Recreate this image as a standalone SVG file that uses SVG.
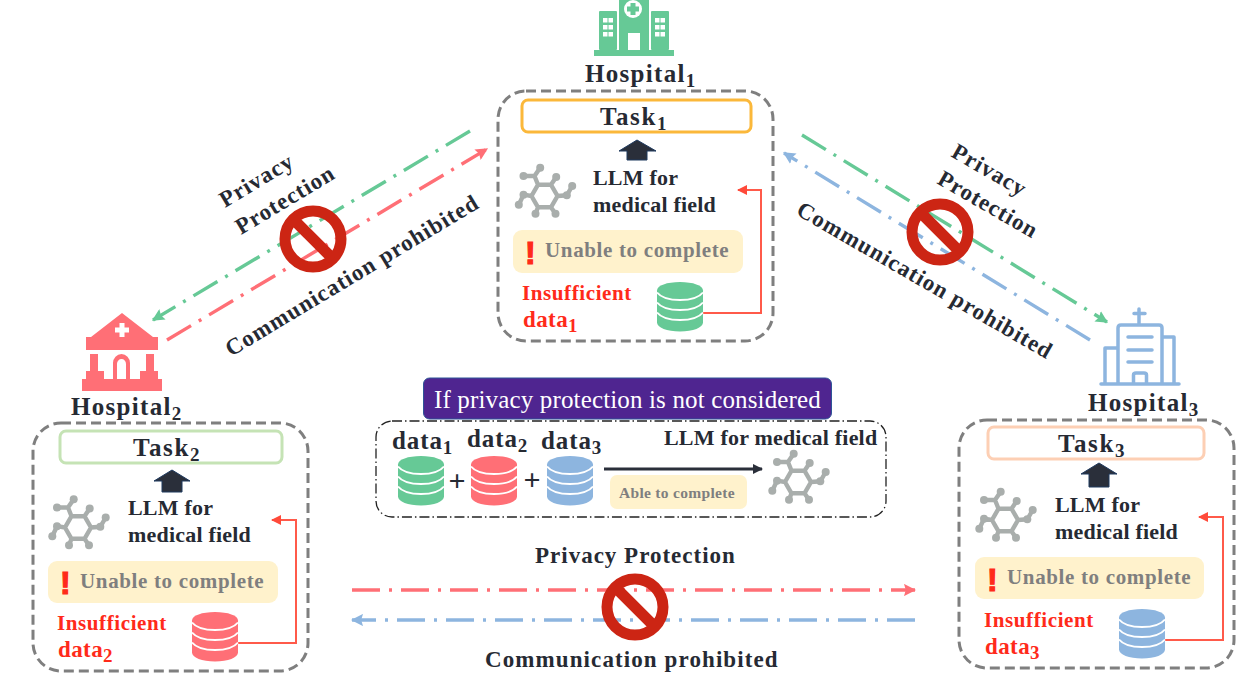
<svg xmlns="http://www.w3.org/2000/svg" width="1249" height="689" viewBox="0 0 1249 689">
<style>
text{font-family:"Liberation Serif","Times New Roman",serif;font-weight:700;fill:#262a33}
.hosp{font-size:25px;letter-spacing:1.3px}
.task{font-size:25px;letter-spacing:1.6px}
.llm{font-size:22px;letter-spacing:.2px}
.un{font-size:21px;letter-spacing:.65px;fill:#7f7f7f}
.ex{font-family:"Liberation Sans",Arial,sans-serif;font-size:32px;fill:#ff2a1a;stroke:#ff2a1a;stroke-width:1.2px}
.ins{font-size:21px;letter-spacing:.6px;fill:#ff2a1a}
.insd{font-size:23px;letter-spacing:.4px;fill:#ff2a1a}
.dat{font-size:25px;letter-spacing:.9px}
.lab{font-size:23px;letter-spacing:1px}
.sub{font-size:19px;letter-spacing:0}
.box{fill:none;stroke:#7f7f7f;stroke-width:3;stroke-dasharray:10 5}
.yel{fill:#fff2cc}
.up{fill:#2a2f3a;stroke:#1f3a5f;stroke-width:1}
.fb{fill:none;stroke:#ff5a4a;stroke-width:2}
.dd{fill:none;stroke-width:3.400;stroke-dasharray:28 9 3 9}
</style>
<defs>
<marker id="mg" viewBox="0 0 10 10" refX="9" refY="5" markerWidth="3.600" markerHeight="3.600" orient="auto"><path d="M0 0L10 5L0 10L1.500 5Z" fill="#66c996"/></marker>
<marker id="mr" viewBox="0 0 10 10" refX="9" refY="5" markerWidth="3.600" markerHeight="3.600" orient="auto"><path d="M0 0L10 5L0 10L1.500 5Z" fill="#ff6f76"/></marker>
<marker id="mb" viewBox="0 0 10 10" refX="9" refY="5" markerWidth="3.600" markerHeight="3.600" orient="auto"><path d="M0 0L10 5L0 10L1.500 5Z" fill="#8db5df"/></marker>
<marker id="mf" viewBox="0 0 10 10" refX="9" refY="5" markerWidth="6" markerHeight="5" orient="auto"><path d="M0 0L10 5L0 10Z" fill="#ff4a3a"/></marker>
<marker id="mk" viewBox="0 0 10 10" refX="9" refY="5" markerWidth="3.400" markerHeight="3.400" orient="auto"><path d="M0 0L10 5L0 10Z" fill="#2a2f3a"/></marker>
<g id="mol">
<path d="M-6.500-11.300H6.500L13 0L6.500 11.300H-6.500L-13 0ZM-6.500-11.300L-10-20H-21M-10-20L-4.300-28.300M6.500-11.300L11.700-19M13 0L22.300-.7L27.700-10M-13 0L-21-1.300L-25.700 8.700M-6.500 11.300L-9 17.700M6.500 11.300L11 17.700" fill="none" stroke="#a9aeac" stroke-width="4.400"/>
<g fill="#a9aeac"><circle cx="-4.300" cy="-28.300" r="4"/><circle cx="-21" cy="-20" r="4"/><circle cx="11.700" cy="-19" r="4"/><circle cx="27.700" cy="-10" r="4"/><circle cx="22.300" cy="-.7" r="4"/><circle cx="-21" cy="-1.300" r="4"/><circle cx="-25.700" cy="8.700" r="4"/><circle cx="-9" cy="17.700" r="4"/><circle cx="11" cy="17.700" r="4"/></g>
</g>
<g id="db">
<path d="M0 8.500C0 3.500 10 0 23 0S46 3.500 46 8.500V40.500C46 45.500 36 49.500 23 49.500S0 45.500 0 40.500Z"/>
<path d="M0 10.500C4 15.500 13 18 23 18S42 15.500 46 10.500M0 20.500C4 25.500 13 28 23 28S42 25.500 46 20.500M0 30.500C4 35.500 13 38 23 38S42 35.500 46 30.500" fill="none" stroke="#fff" stroke-width="2"/>
</g>
<g id="no">
<circle r="28" fill="none" stroke="#cc2514" stroke-width="11"/>
<path d="M-20-20L20 20" stroke="#cc2514" stroke-width="11"/>
</g>
</defs>

<g id="connectors">
<path class="dd" stroke="#66c996" marker-end="url(#mg)" d="M470 131L153 320"/>
<path class="dd" stroke="#ff6f76" marker-end="url(#mr)" d="M167 340L487 149"/>
<path class="dd" stroke="#66c996" marker-end="url(#mg)" d="M802 135L1107 322"/>
<path class="dd" stroke="#8db5df" marker-end="url(#mb)" d="M1090 340L784 153"/>
<path class="dd" stroke="#ff6f76" marker-end="url(#mr)" d="M352 590H915"/>
<path class="dd" stroke="#8db5df" marker-end="url(#mb)" d="M915 620H352"/>
<path class="fb" marker-end="url(#mf)" d="M703 313H761V190H738"/>
<path class="fb" marker-end="url(#mf)" d="M238 643H296V520H272"/>
<path class="fb" marker-end="url(#mf)" d="M1165 640H1223V517H1199"/>
</g>

<g id="label-left">
<text class="lab" transform="translate(225 208) rotate(-31)">Privacy</text>
<text class="lab" transform="translate(241 235) rotate(-31)">Protection</text>
<text class="lab" transform="translate(231 357) rotate(-31)">Communication prohibited</text>
<use href="#no" x="313" y="239"/>
</g>
<g id="label-right">
<text class="lab" transform="translate(950 156) rotate(30)">Privacy</text>
<text class="lab" transform="translate(936 183) rotate(30)">Protection</text>
<text class="lab" transform="translate(795 214) rotate(30)">Communication prohibited</text>
<use href="#no" x="940" y="232"/>
</g>
<g id="label-bottom">
<text class="lab" x="535" y="563">Privacy Protection</text>
<text class="lab" x="485" y="667" style="letter-spacing:1.1px">Communication prohibited</text>
<use href="#no" x="635" y="607"/>
</g>

<g id="hospital1">
<g fill="#66c996">
<rect x="594" y="50" width="80" height="6"/>
<rect x="599" y="11" width="18" height="39" rx="1"/>
<rect x="651" y="11" width="18" height="39" rx="1"/>
<rect x="619" y="0" width="30" height="50"/>
</g>
<circle cx="633" cy="9" r="9" fill="#fff"/>
<path d="M630.500 3H635.500V6.500H639V11.500H635.500V15H630.500V11.500H627V6.500H630.500Z" fill="#66c996"/>
<rect x="628" y="33" width="12" height="17" fill="#fff"/>
<path d="M603 18h4.500v4.500h-4.500zM608.500 18h4.500v4.500h-4.500zM603 25h4.500v4.500h-4.500zM608.500 25h4.500v4.500h-4.500zM603 32h4.500v4.500h-4.500zM608.500 32h4.500v4.500h-4.500zM655 18h4.500v4.500h-4.500zM660.500 18h4.500v4.500h-4.500zM655 25h4.500v4.500h-4.500zM660.500 25h4.500v4.500h-4.500zM655 32h4.500v4.500h-4.500zM660.500 32h4.500v4.500h-4.500z" fill="#fff"/>
<text class="hosp" x="585" y="82">Hospital<tspan class="sub" dy="5">1</tspan></text>
</g>
<g id="site1">
<rect class="box" x="498" y="91" width="275" height="250" rx="28"/>
<rect x="522" y="100" width="229" height="32" rx="6" fill="#fff" stroke="#fbb83a" stroke-width="3"/>
<text class="task" x="600" y="125">Task<tspan class="sub" dy="5">1</tspan></text>
<path class="up" d="M637 140L656 151H647V160H627V151H619Z"/>
<use href="#mol" x="544.500" y="196"/>
<text class="llm" x="593" y="185">LLM for</text>
<text class="llm" x="593" y="212">medical field</text>
<rect class="yel" x="513" y="230" width="230" height="43" rx="9"/>
<text class="ex" x="525" y="264">!</text>
<text class="un" x="545" y="257">Unable to complete</text>
<text class="ins" x="522" y="300">Insufficient</text>
<text class="insd" x="523" y="327">data<tspan class="sub" dy="5" style="fill:#ff2a1a">1</tspan></text>
<use href="#db" x="657" y="282" fill="#66c996"/>
</g>

<g id="hospital2">
<path d="M122 313L153 337H158V350H86V337H91ZM90 354H98V371H104V379H140V371H146V354H154V371H158V379H162V391H82V379H86V371H90ZM113 379V363A8.500 9 0 0 1 130 363V379H126V364A4.500 5 0 0 0 117 364V379Z" fill="#ff6f76"/>
<path d="M119.500 323H124.500V327.500H129V332.500H124.500V337H119.500V332.500H115V327.500H119.500Z" fill="#fff"/>
<text class="hosp" x="71" y="415">Hospital<tspan class="sub" dy="5">2</tspan></text>
</g>
<g id="site2">
<rect class="box" x="33" y="423" width="275" height="248" rx="28"/>
<rect x="60" y="431" width="222" height="32" rx="6" fill="#fff" stroke="#c5e3b5" stroke-width="3"/>
<text class="task" x="133" y="456">Task<tspan class="sub" dy="5">2</tspan></text>
<path class="up" d="M172 470L190 481H182V492H162V481H154Z"/>
<use href="#mol" x="78" y="527.500"/>
<text class="llm" x="128" y="515">LLM for</text>
<text class="llm" x="128" y="542">medical field</text>
<rect class="yel" x="48" y="561" width="230" height="42" rx="9"/>
<text class="ex" x="60" y="594">!</text>
<text class="un" x="80" y="588">Unable to complete</text>
<text class="ins" x="57" y="630">Insufficient</text>
<text class="insd" x="58" y="657">data<tspan class="sub" dy="5" style="fill:#ff2a1a">2</tspan></text>
<use href="#db" x="192" y="612" fill="#ff6f76"/>
</g>

<g id="hospital3">
<path d="M1139 309V323M1134 313.500H1145M1105 384V348H1118M1174 384V337H1162M1118 384V328Q1118 325 1121 325H1159Q1162 325 1162 328V384M1101 384H1179M1128 337H1152M1128 350H1152M1128 362H1152M1133.500 384V375Q1133.500 373 1136 373H1144Q1146.500 373 1146.500 375V384" fill="none" stroke="#8db5df" stroke-width="3.500" stroke-linecap="round" stroke-linejoin="round"/>
<text class="hosp" x="1088" y="411">Hospital<tspan class="sub" dy="5">3</tspan></text>
</g>
<g id="site3">
<rect class="box" x="959" y="420" width="275" height="248" rx="28"/>
<rect x="988" y="427" width="216" height="32" rx="6" fill="#fff" stroke="#fdcfb4" stroke-width="3"/>
<text class="task" x="1058" y="452">Task<tspan class="sub" dy="5">3</tspan></text>
<path class="up" d="M1099 463L1117 474H1109V487H1089V474H1081Z"/>
<use href="#mol" x="1005" y="520"/>
<text class="llm" x="1055" y="512">LLM for</text>
<text class="llm" x="1055" y="539">medical field</text>
<rect class="yel" x="975" y="557" width="229" height="42" rx="9"/>
<text class="ex" x="987" y="591">!</text>
<text class="un" x="1007" y="584">Unable to complete</text>
<text class="ins" x="984" y="627">Insufficient</text>
<text class="insd" x="985" y="654">data<tspan class="sub" dy="5" style="fill:#ff2a1a">3</tspan></text>
<use href="#db" x="1119" y="609" fill="#8db5df"/>
</g>

<g id="central">
<rect x="376" y="421" width="510" height="96" rx="16" fill="#fff" stroke="#222" stroke-width="1.300" stroke-dasharray="10 3 1.500 3"/>
<rect x="423.500" y="378" width="408" height="41" rx="6" fill="#4f2590" stroke="#2e5597" stroke-width="1"/>
<text x="434" y="408" style="font-size:25px;font-weight:400;letter-spacing:.15px;fill:#fff">If privacy protection is not considered</text>
<text class="dat" x="392" y="449">data<tspan class="sub" dy="5">1</tspan></text>
<text class="dat" x="467" y="447">data<tspan class="sub" dy="5">2</tspan></text>
<text class="dat" x="541" y="449">data<tspan class="sub" dy="5">3</tspan></text>
<text class="llm" x="664" y="445">LLM for medical field</text>
<use href="#db" x="398" y="456" fill="#66c996"/>
<use href="#db" x="471" y="456" fill="#ff6f76"/>
<use href="#db" x="547" y="456" fill="#8db5df"/>
<text x="448.500" y="491" style="font-size:30px">+</text>
<text x="523.500" y="490" style="font-size:30px">+</text>
<path d="M604 469H762" stroke="#2a2f3a" stroke-width="3" marker-end="url(#mk)"/>
<rect class="yel" x="610" y="475" width="137" height="34" rx="7"/>
<text x="619" y="498" style="font-size:15.500px;letter-spacing:.3px;fill:#7f7f7f">Able to complete</text>
<use href="#mol" x="798" y="482"/>
</g>
</svg>
